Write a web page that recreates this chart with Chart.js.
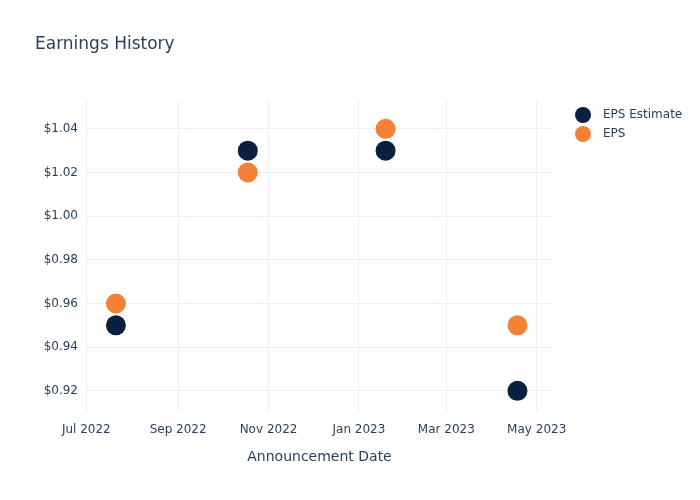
<!DOCTYPE html>
<html>
<head>
<meta charset="utf-8">
<script src="https://cdn.jsdelivr.net/npm/chart.js@4"></script>
<style>
  html, body { margin: 0; padding: 0; background: #fff; }
  #wrap { width: 700px; height: 500px; }
</style>
</head>
<body>
<div id="wrap"><canvas id="earningsChart" width="700" height="500"></canvas></div>
<script>
// datos del grafico
var fechas = ['2022-07-21', '2022-10-18', '2023-01-19', '2023-04-18'];
var epsEstimate = [0.95, 1.03, 1.03, 0.92];
var epsReal = [0.96, 1.02, 1.04, 0.95];
var mesesTicks = ['2022-07-01', '2022-09-01', '2022-11-01', '2023-01-01', '2023-03-01', '2023-05-01'];
var yTicks = [0.92, 0.94, 0.96, 0.98, 1.00, 1.02, 1.04];

var nombresMes = ['Jan', 'Feb', 'Mar', 'Apr', 'May', 'Jun', 'Jul', 'Aug', 'Sep', 'Oct', 'Nov', 'Dec'];
var DIA = 24 * 3600 * 1000;
var colorTexto = '#2a3f5f';
var colorGrid = '#ebf0f8';
var fuente = 'DejaVu Sans';

function ts(s) {
    var p = s.split('-');
    return Date.UTC(+p[0], +p[1] - 1, +p[2]);
}

function puntos(valores) {
    return fechas.map(function (f, i) { return { x: ts(f), y: valores[i] }; });
}

// titulo y leyenda dibujados a mano para colocarlos como en la referencia
var extras = {
    id: 'extras',
    afterDraw: function (chart) {
        var ctx = chart.ctx;
        ctx.save();
        ctx.fillStyle = colorTexto;
        ctx.textBaseline = 'middle';
        ctx.textAlign = 'left';
        ctx.font = '17px "' + fuente + '"';
        ctx.fillText('Earnings History', 35, 45);

        ctx.font = '12px "' + fuente + '"';
        chart.data.datasets.forEach(function (ds, i) {
            var y = 115 + i * 19;
            ctx.beginPath();
            ctx.arc(583, y, 8, 0, Math.PI * 2);
            ctx.fillStyle = ds.backgroundColor;
            ctx.fill();
            ctx.fillStyle = colorTexto;
            ctx.fillText(ds.label, 603, y);
        });
        ctx.restore();
    }
};

var ctx = document.getElementById('earningsChart').getContext('2d');
var chart = new Chart(ctx, {
    type: 'scatter',
    data: {
        datasets: [{
            label: 'EPS Estimate',
            data: puntos(epsEstimate),
            backgroundColor: '#0b1f3f',
            borderWidth: 0,
            pointRadius: 10,
            pointHoverRadius: 10
        }, {
            label: 'EPS',
            data: puntos(epsReal),
            backgroundColor: '#f58136',
            borderWidth: 0,
            pointRadius: 10,
            pointHoverRadius: 10
        }]
    },
    options: {
        responsive: false,
        animation: false,
        layout: { padding: { left: 0, right: 147, top: 100, bottom: 0 } },
        plugins: {
            legend: { display: false },
            title: { display: false },
            tooltip: { enabled: false }
        },
        scales: {
            x: {
                type: 'linear',
                min: ts('2022-07-01') - 0.2 * DIA,
                max: ts('2023-05-12'),
                border: { display: false },
                grid: { color: colorGrid, lineWidth: 1, drawTicks: false },
                afterBuildTicks: function (scale) {
                    scale.ticks = mesesTicks.map(function (m) { return { value: ts(m) }; });
                },
                afterFit: function (scale) { scale.height = 88; },
                ticks: {
                    color: colorTexto,
                    font: { family: fuente, size: 12 },
                    padding: 11,
                    maxRotation: 0,
                    autoSkip: false,
                    callback: function (v) {
                        var d = new Date(v);
                        return nombresMes[d.getUTCMonth()] + ' ' + d.getUTCFullYear();
                    }
                },
                title: {
                    display: true,
                    text: 'Announcement Date',
                    color: colorTexto,
                    font: { family: fuente, size: 14 },
                    padding: { top: 0, bottom: 34 }
                }
            },
            y: {
                min: 0.9103,
                max: 1.0532,
                border: { display: false },
                grid: { color: colorGrid, lineWidth: 1, drawTicks: false },
                afterBuildTicks: function (scale) {
                    scale.ticks = yTicks.map(function (v) { return { value: v }; });
                },
                afterFit: function (scale) { scale.width = 86; },
                ticks: {
                    color: colorTexto,
                    font: { family: fuente, size: 12 },
                    padding: 8,
                    callback: function (v) { return '$' + v.toFixed(2); }
                }
            }
        }
    },
    plugins: [extras]
});
</script>
</body>
</html>
